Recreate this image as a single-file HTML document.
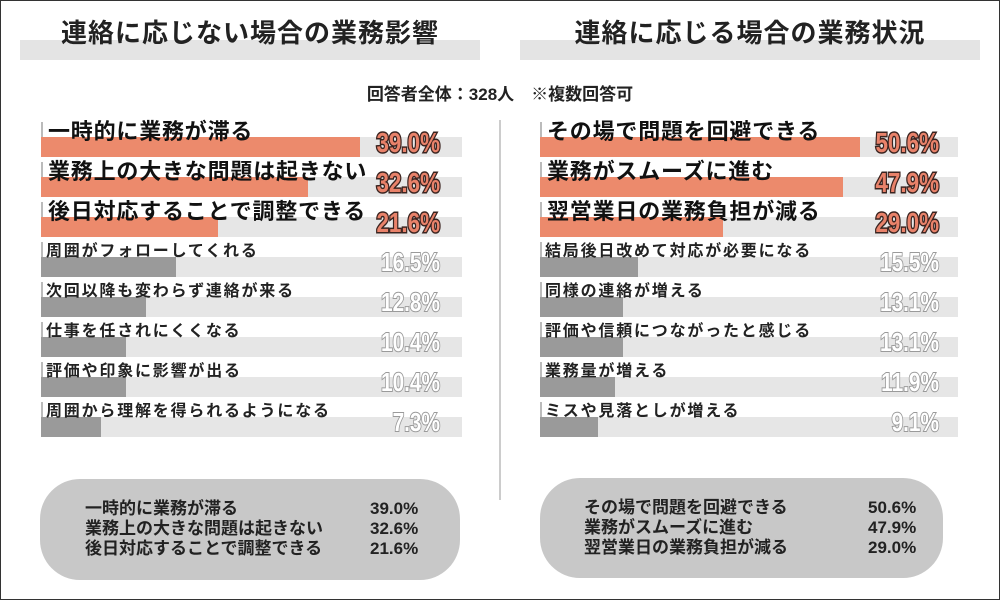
<!DOCTYPE html>
<html><head><meta charset="utf-8"><style>
*{margin:0;padding:0;box-sizing:border-box}
body{width:1000px;height:600px;background:#fff;position:relative;overflow:hidden;font-family:"Liberation Sans","Noto Sans CJK JP",sans-serif;color:#222}
.frame{position:absolute;left:0;top:0;width:1000px;height:600px;border:1.5px solid #333}
.a{position:absolute;white-space:nowrap}
.band{position:absolute;top:40px;height:20px;background:#e4e4e4}
.title{position:absolute;top:13px;font-size:26px;font-weight:bold;text-align:center;width:460px;letter-spacing:1px}
.track{position:absolute;height:20px;background:#e6e6e6}
.bar{position:absolute;height:20px}
.tick{position:absolute;width:2px;height:15px;background:#bbb}
.lb{position:absolute;font-weight:bold;white-space:nowrap}
.big{font-size:22px;color:#111;letter-spacing:0.8px}
.sm{font-size:16px;color:#222;letter-spacing:1.8px}
.pct{position:absolute;font-weight:bold;font-size:28px;transform:scaleX(0.8);transform-origin:right center;text-align:right;width:140px;paint-order:stroke fill}
.po{color:#e9826a;-webkit-text-stroke:3px #3a2420}
.pg{color:#fff;-webkit-text-stroke:2px #9a9a9a;font-size:26px}
.box{position:absolute;background:#c8c8c8;border-radius:40px}
.bt{position:absolute;font-size:17px;font-weight:bold;line-height:20px;color:#222}
</style></head><body>
<div class="frame"></div>
<div class="band" style="left:20px;width:460px"></div>
<div class="band" style="left:520px;width:460px"></div>
<div class="title" style="left:20px">連絡に応じない場合の業務影響</div>
<div class="title" style="left:520px">連絡に応じる場合の業務状況</div>
<div class="a" style="left:0;width:1000px;text-align:center;top:80px;font-size:17px;font-weight:bold">回答者全体：328人　※複数回答可</div>
<div class="a" style="left:499px;top:120px;width:2px;height:380px;background:#ccc"></div>

<div id="L"></div>
<div id="R"></div>

<div class="box" style="left:40px;top:479px;width:420px;height:101px"></div>
<div class="bt" style="left:85px;top:499px">一時的に業務が滞る<br>業務上の大きな問題は起きない<br>後日対応することで調整できる</div>
<div class="bt" style="left:370px;top:499px">39.0%<br>32.6%<br>21.6%</div>
<div class="box" style="left:540px;top:478px;width:403px;height:100px"></div>
<div class="bt" style="left:584px;top:498px">その場で問題を回避できる<br>業務がスムーズに進む<br>翌営業日の業務負担が減る</div>
<div class="bt" style="left:868px;top:498px">50.6%<br>47.9%<br>29.0%</div>

<script>
function panel(x0,x1,scale,px,data){
  let h='';
  data.forEach((d,i)=>{
    const top=137+i*40, big=i<3;
    h+=`<div class="track" style="left:${x0}px;top:${top}px;width:${x1-x0}px"></div>`;
    h+=`<div class="bar" style="left:${x0}px;top:${top}px;width:${Math.round(d[1]*scale)}px;background:${big?'#ec8a6c':'#9a9a9a'}"></div>`;
    h+=`<div class="tick" style="left:${x0}px;top:${top-15}px"></div>`;
    h+=`<div class="lb ${big?'big':'sm'}" style="left:${x0+(big?7:5)}px;top:${big?top-23:top-20}px">${d[0]}</div>`;
    h+=`<div class="pct ${big?'po':'pg'}" style="left:${px-140}px;top:${top-10}px">${d[1].toFixed(1)}%</div>`;
  });
  return h;
}
document.getElementById('L').innerHTML=panel(41,462,8.18,440,[
['一時的に業務が滞る',39.0],['業務上の大きな問題は起きない',32.6],['後日対応することで調整できる',21.6],
['周囲がフォローしてくれる',16.5],['次回以降も変わらず連絡が来る',12.8],['仕事を任されにくくなる',10.4],
['評価や印象に影響が出る',10.4],['周囲から理解を得られるようになる',7.3]]);
document.getElementById('R').innerHTML=panel(540,958,6.32,939,[
['その場で問題を回避できる',50.6],['業務がスムーズに進む',47.9],['翌営業日の業務負担が減る',29.0],
['結局後日改めて対応が必要になる',15.5],['同様の連絡が増える',13.1],['評価や信頼につながったと感じる',13.1],
['業務量が増える',11.9],['ミスや見落としが増える',9.1]]);
</script>
</body></html>
